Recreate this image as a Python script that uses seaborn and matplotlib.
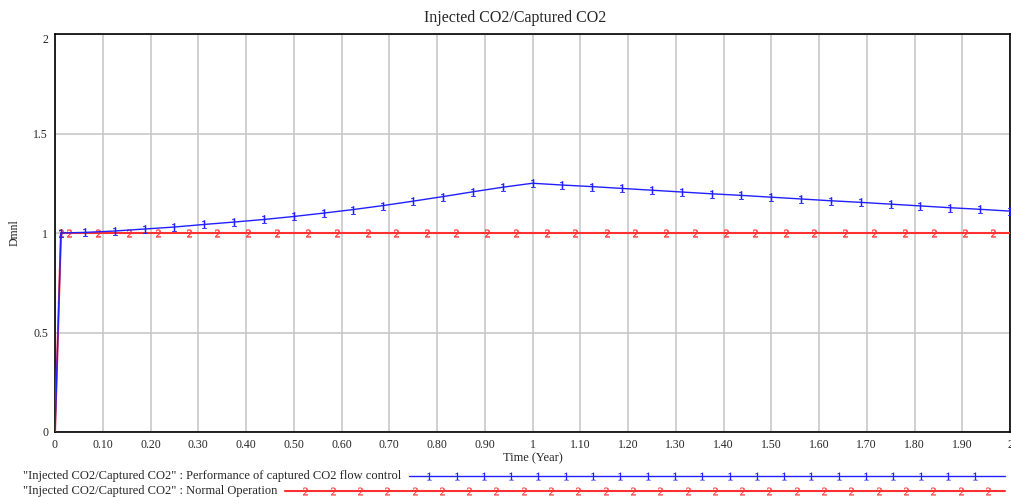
import numpy as np
import pandas as pd
import matplotlib
matplotlib.use("Agg")
import matplotlib.pyplot as plt
import seaborn as sns

# Data

time_flow = [0, 0.0125, 0.0625, 0.125, 0.1875, 0.25, 0.3125, 0.375, 0.4375, 0.5,
             0.5625, 0.625, 0.6875, 0.75, 0.8125, 0.875, 0.9375, 1.0,
             1.0625, 1.125, 1.1875, 1.25, 1.3125, 1.375, 1.4375, 1.5,
             1.5625, 1.625, 1.6875, 1.75, 1.8125, 1.875, 1.9375, 2.0]
ratio_flow = [0, 1.0, 1.003, 1.01, 1.02, 1.03, 1.043, 1.055, 1.068, 1.083,
              1.10, 1.118, 1.138, 1.16, 1.183, 1.207, 1.23, 1.25,
              1.241, 1.233, 1.224, 1.215, 1.206, 1.197, 1.189, 1.18,
              1.171, 1.162, 1.154, 1.145, 1.136, 1.127, 1.119, 1.11]

time_normal = [0, 0.0125, 0.03, 0.09, 0.155, 0.215, 0.28, 0.34, 0.405, 0.465,
               0.53, 0.59, 0.655, 0.715, 0.78, 0.84, 0.905, 0.965,
               1.03, 1.09, 1.155, 1.215, 1.28, 1.34, 1.405, 1.465,
               1.53, 1.59, 1.655, 1.715, 1.78, 1.84, 1.905, 1.965, 2.0]
ratio_normal = [0] + [1.0] * 34

x_ticks = [0, 0.1, 0.2, 0.3, 0.4, 0.5, 0.6, 0.7, 0.8, 0.9, 1.0,
           1.1, 1.2, 1.3, 1.4, 1.5, 1.6, 1.7, 1.8, 1.9, 2.0]
x_labels = ["0", "0.10", "0.20", "0.30", "0.40", "0.50", "0.60", "0.70", "0.80", "0.90", "1",
            "1.10", "1.20", "1.30", "1.40", "1.50", "1.60", "1.70", "1.80", "1.90", "2"]
y_ticks = [0, 0.5, 1, 1.5, 2]
y_labels = ["0", "0.5", "1", "1.5", "2"]

legend_labels = ['"Injected CO2/Captured CO2" : Performance of captured CO2 flow control',
                 '"Injected CO2/Captured CO2" : Normal Operation']

# Style

sns.set_style("white")
plt.rcParams['font.family'] = ['Liberation Serif', 'DejaVu Serif']
plt.rcParams['mathtext.fontset'] = 'custom'
plt.rcParams['mathtext.rm'] = 'Liberation Serif'
plt.rcParams['mathtext.it'] = 'Liberation Serif'
plt.rcParams['mathtext.bf'] = 'Liberation Serif:bold'

BLUE = "#2020ff"
RED = "#ff3030"

fig = plt.figure(figsize=(10.11, 4.97), dpi=100)
ax = fig.add_axes([55 / 1011, 65 / 497, 955 / 1011, 398 / 497])

df_flow = pd.DataFrame({"time": time_flow, "ratio": ratio_flow})
df_normal = pd.DataFrame({"time": time_normal, "ratio": ratio_normal})

sns.lineplot(data=df_normal, x="time", y="ratio", ax=ax, color=RED, lw=1.5,
             marker="$2$", markersize=5.5, markeredgewidth=0.3,
             markeredgecolor=RED, markerfacecolor=RED,
             markevery=list(range(1, len(time_normal) - 1)), zorder=3)
sns.lineplot(data=df_flow, x="time", y="ratio", ax=ax, color=BLUE, lw=1.0,
             marker="$1$", markersize=6, markeredgewidth=0.3,
             markeredgecolor=BLUE, markerfacecolor=BLUE,
             markevery=list(range(1, len(time_flow))), zorder=4)

ax.set_xlim(0, 2)
ax.set_ylim(0, 2)
ax.set_xticks(x_ticks)
ax.set_xticklabels(x_labels, fontsize=8.5)
ax.set_yticks(y_ticks)
ax.set_yticklabels(y_labels, fontsize=8.5)
ax.tick_params(length=0, pad=5)
ax.grid(True, color="#c8c8c8", lw=1.2)
ax.set_axisbelow(True)
for s in ax.spines.values():
    s.set_color("black")
    s.set_linewidth(1.2)

# top label sits a little below the frame in the reference
ax.get_yticklabels()[-1].set_va("top")

ax.set_xlabel("Time (Year)", fontsize=9, labelpad=1)
ax.set_ylabel("Dmnl", fontsize=8.5, labelpad=9)
ax.set_title("Injected CO2/Captured CO2", fontsize=11.5, pad=9, x=0.482)

# Custom legend below the chart

leg = fig.add_axes([0, 0, 1, 1], facecolor="none")
leg.set_xlim(0, 1011)
leg.set_ylim(497, 0)
leg.axis("off")

fig.canvas.draw()
renderer = fig.canvas.get_renderer()
leg_rows = [(legend_labels[0], BLUE, "$1$", 1.0, 476),
            (legend_labels[1], RED, "$2$", 1.5, 491)]
for label, color, mk, lw, yy in leg_rows:
    t = leg.text(23, yy, label, fontsize=9, va="center", ha="left")
    bb = t.get_window_extent(renderer)
    x0 = bb.x1 + 8
    x1 = 1005
    leg.plot([x0, x1], [yy, yy], color=color, lw=lw)
    xs = np.arange(x0 + 20, x1 - 5, 27.3)
    leg.plot(xs, [yy] * len(xs), ls="none", marker=mk, color=color,
             markersize=5.5, markeredgewidth=0.2)

fig.savefig("out.png", dpi=100)
